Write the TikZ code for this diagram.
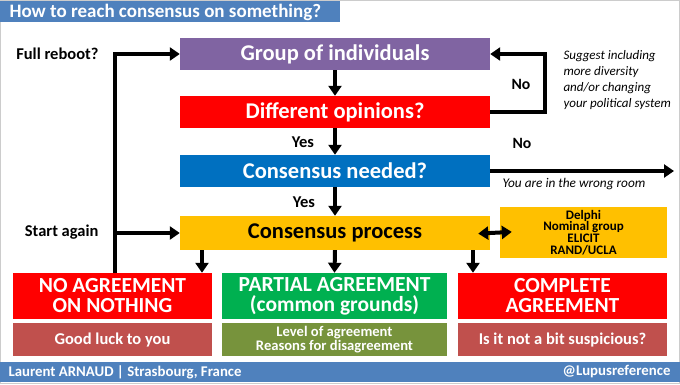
\documentclass[tikz,border=0pt]{standalone}
\usepackage{fontspec}
\setmainfont{Carlito}
\usetikzlibrary{arrows.meta}
\definecolor{barblue}{HTML}{4F81BD}
\definecolor{grpurple}{HTML}{8064A2}
\definecolor{opred}{HTML}{FF0000}
\definecolor{needblue}{HTML}{0070C0}
\definecolor{procyellow}{HTML}{FFC000}
\definecolor{partgreen}{HTML}{00B050}
\definecolor{levelolive}{HTML}{77933C}
\definecolor{noterose}{HTML}{C0504D}
\begin{document}
\begin{tikzpicture}[x=1pt, y=-1pt,
  stepbox/.style={rectangle, inner sep=0pt, minimum width=310, minimum height=32,
    text=white, align=center, font=\bfseries\fontsize{22.5}{24}\selectfont},
  outcome/.style={rectangle, inner sep=0pt, minimum height=46, fill=opred,
    text=white, align=center, font=\bfseries\fontsize{21.5}{20}\selectfont},
  remark/.style={rectangle, inner sep=0pt, minimum height=33, fill=noterose,
    text=white, align=center, font=\bfseries\fontsize{16.5}{17}\selectfont},
  lbl/.style={font=\bfseries\fontsize{16.5}{17}\selectfont},
  flow/.style={line width=4pt, -{Triangle[length=10pt,width=13pt]}},
  both/.style={line width=4pt, {Triangle[length=10pt,width=13pt]}-{Triangle[length=10pt,width=13pt]}}]
\useasboundingbox (0,0) rectangle (680,384);
\draw[black!20] (0.5,0.5) rectangle (679.5,383.5);
% title and footer bars
\fill[barblue] (0,1) rectangle (340,22);
\node[anchor=west, text=white, font=\bfseries\fontsize{19}{20}\selectfont] (title) at (6,12) {How to reach consensus on something?};
\fill[barblue] (0,362) rectangle (680,382);
\node[anchor=west, text=white, font=\bfseries\fontsize{14.8}{16}\selectfont] (author) at (5,372) {Laurent ARNAUD | Strasbourg, France};
\node[anchor=east, text=white, font=\bfseries\fontsize{14.8}{16}\selectfont] (handle) at (674,372) {@Lupusreference};
% main steps
\node[stepbox, fill=grpurple] (group) at (335,54) {Group of individuals};
\node[stepbox, fill=opred] (diff) at (335,112) {Different opinions?};
\node[stepbox, fill=needblue] (need) at (335,171) {Consensus needed?};
\node[stepbox, fill=procyellow, text=black, minimum height=34] (proc) at (335,233) {Consensus process};
\node[rectangle, fill=procyellow, minimum width=167, minimum height=51, inner sep=0pt,
  align=center, font=\bfseries\fontsize{13}{11.7}\selectfont] (methods) at (583.5,232.5)
  {Delphi\\Nominal group\\ELICIT\\RAND/UCLA};
% outcomes
\node[outcome, minimum width=199] (noagr) at (112.5,296) {NO AGREEMENT\\ON NOTHING};
\node[remark, minimum width=199] (luck) at (112.5,339.5) {Good luck to you};
\node[outcome, minimum width=225, fill=partgreen] (partial) at (334.5,296) {PARTIAL AGREEMENT\\(common grounds)};
\node[remark, minimum width=225, fill=levelolive, font=\bfseries\fontsize{14.6}{14}\selectfont] (level) at (334.5,339.5) {Level of agreement\\Reasons for disagreement};
\node[outcome, minimum width=209] (complete) at (562.5,296) {COMPLETE\\AGREEMENT};
\node[remark, minimum width=209] (susp) at (562.5,339.5) {Is it not a bit suspicious?};
% side texts
\node[anchor=west, align=left, font=\itshape\fontsize{13}{15.7}\selectfont] (suggest) at (560,80)
  {Suggest including\\more diversity\\and/or changing\\your political system};
\node[font=\itshape\fontsize{13.3}{14}\selectfont] (room) at (574,184) {You are in the wrong room};
\node[lbl, anchor=east] (reboot) at (102,54) {Full reboot?};
\node[lbl, anchor=east] (again) at (102,232) {Start again};
\node[lbl] (yesa) at (303,142) {Yes};
\node[lbl] (yesb) at (304,202) {Yes};
\node[lbl, font=\bfseries\fontsize{15.7}{16}\selectfont] (noa) at (521,84) {No};
\node[lbl, font=\bfseries\fontsize{15.7}{16}\selectfont] (nob) at (522,143) {No};
% connectors
\coordinate (roomend) at (674,171);
\draw[flow] (group) -- (diff);
\draw[flow] (diff) -- (need);
\draw[flow] (need) -- (proc);
\draw[flow] (diff.east) -- ++(55,0) |- (group.east);
\draw[flow] (need.east) -- (roomend);
\draw[both, shorten <=-12pt, shorten >=-12pt] (proc.east) -- (methods.west);
\draw[flow] ([xshift=2.5]noagr.north) |- (group.west);
\draw[flow] ([xshift=2.5]noagr.north |- proc.west) -- (proc.west);
\draw[flow] ([xshift=-133]proc.south) -- ([xshift=-133]proc.south |- noagr.north);
\draw[flow] (proc.south) -- (partial.north);
\draw[flow] ([xshift=138]proc.south) -- ([xshift=138]proc.south |- complete.north);
\end{tikzpicture}
\end{document}
